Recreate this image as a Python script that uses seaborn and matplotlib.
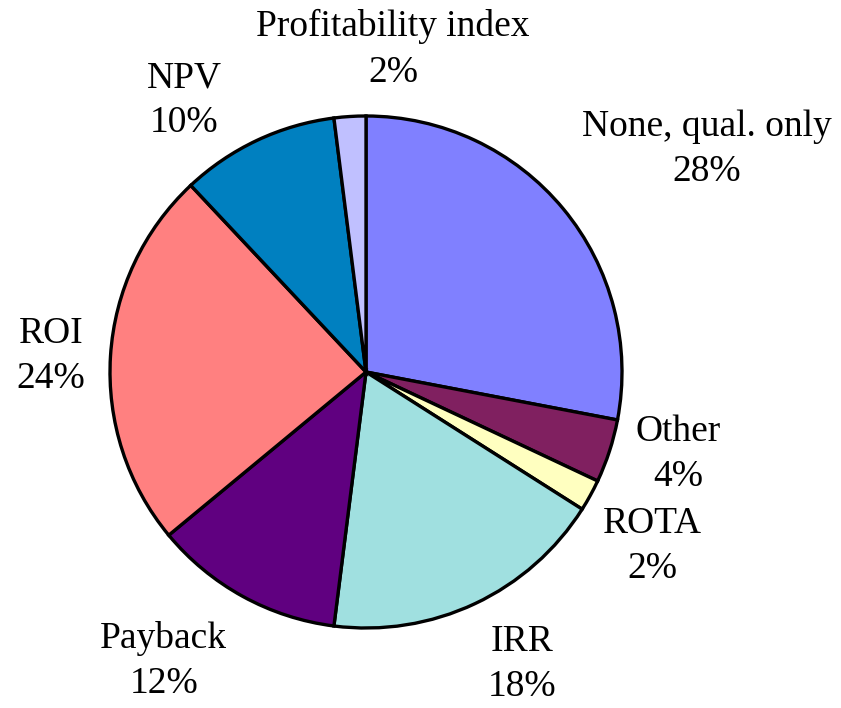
#%% bibliotecas
import numpy as np
import seaborn as sns
import matplotlib.pyplot as plt

#%% dados
categorias = ['None, qual. only', 'Other', 'ROTA', 'IRR', 'Payback',
              'ROI', 'NPV', 'Profitability index']
percentuais = [28, 4, 2, 18, 12, 24, 10, 2]
cores = ['#8080FF', '#802060', '#FFFFC0', '#A0E0E0', '#600080',
         '#FF8080', '#0080C0', '#C0C0FF']

# posição dos rótulos (unidades do raio)
pos_rotulos = [(1.33, 0.87), (1.22, -0.32), (1.12, -0.68), (0.61, -1.14),
               (-0.79, -1.13), (-1.23, 0.06), (-0.71, 1.06), (0.105, 1.26)]

#%% gráfico
sns.set_theme(style='white')
plt.rcParams['font.family'] = ['Liberation Serif', 'DejaVu Serif']

fig = plt.figure(figsize=(8.41, 7.08), dpi=100)
cx, cy, r = 366 / 841, 1 - 372 / 708, 256
ax = fig.add_axes([cx - r / 841, cy - r / 708, 2 * r / 841, 2 * r / 708])

ax.pie(percentuais, colors=cores, startangle=90, counterclock=False,
       wedgeprops=dict(edgecolor='black', linewidth=2.4), radius=1)
ax.set_xlim(-1, 1)
ax.set_ylim(-1, 1)
ax.set_aspect('equal')
ax.axis('off')

for nome, p, (x, y) in zip(categorias, percentuais, pos_rotulos):
    ax.text(x, y, f'{nome}\n{p}%', ha='center', va='center', fontsize=27,
            linespacing=1.4, color='black', clip_on=False)

fig.savefig('out.png', dpi=100)
